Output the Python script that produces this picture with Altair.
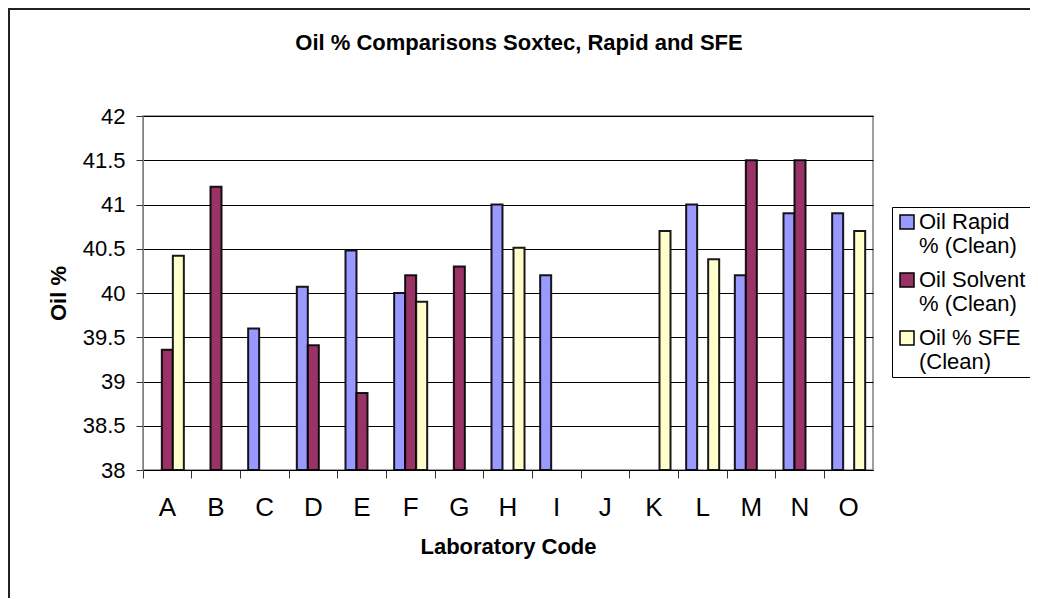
import altair as alt
import pandas as pd

labs = ["A", "B", "C", "D", "E", "F", "G", "H", "I", "J", "K", "L", "M", "N", "O"]
series = ["Oil Rapid\n% (Clean)", "Oil Solvent\n% (Clean)", "Oil % SFE\n(Clean)"]
rapid = [None, None, 39.6, 40.07, 40.48, 40.0, None, 41.0, 40.2, None, None, 41.0, 40.2, 40.9, 40.9]
solvent = [39.36, 41.2, None, 39.41, 38.87, 40.2, 40.3, None, None, None, None, None, 41.5, 41.5, None]
sfe = [40.42, None, None, None, None, 39.9, None, 40.51, None, None, 40.7, 40.38, None, None, 40.7]
colors = ["#9999FF", "#993366", "#FFFFCC"]
y_ticks = [38, 38.5, 39, 39.5, 40, 40.5, 41, 41.5, 42]
title_text = ["Oil % Comparisons Soxtec, Rapid and SFE"]

rows = []
for s, vals in zip(series, [rapid, solvent, sfe]):
    for c, v in zip(labs, vals):
        if v is not None:
            rows.append({"lab": c, "series": s, "value": v})
df = pd.DataFrame(rows)

FONT = "Liberation Sans"

bars = alt.Chart(df).mark_bar(stroke="black", strokeWidth=2, strokeOpacity=0.9).encode(
    x=alt.X("lab:N", scale=alt.Scale(domain=labs, paddingInner=0, paddingOuter=0),
            axis=alt.Axis(title="Laboratory Code", labelAngle=0, bandPosition=0, labelOffset=0,
                          tickSize=8, labelPadding=16, labelFontSize=26, titleFontSize=22,
                          titleFontWeight="bold", titlePadding=16, domainColor="black",
                          tickColor="#333", labelColor="black", titleColor="black", grid=False)),
    xOffset=alt.XOffset("series:N", scale=alt.Scale(domain=series, paddingInner=0, paddingOuter=0.71)),
    y=alt.Y("value:Q", scale=alt.Scale(domain=[38, 42], zero=False, nice=False),
            axis=alt.Axis(title="Oil %", values=y_ticks, format=".1~f", tickSize=7, labelPadding=11,
                          labelFontSize=22, titleFontSize=22, titleFontWeight="bold", titlePadding=12,
                          domainColor="#808080", tickColor="#333", gridColor="black", gridWidth=1,
                          labelColor="black", titleColor="black")),
    y2=alt.datum(38),
    color=alt.Color("series:N", scale=alt.Scale(domain=series, range=colors),
                    legend=alt.Legend(title=None, orient="none", legendX=749, legendY=91,
                                      symbolType="square", symbolSize=196, symbolStrokeColor="black",
                                      symbolStrokeWidth=1.5, labelFontSize=22, labelColor="black",
                                      labelExpr="split(replace(datum.label, 'Solvent', 'Solvent      '), '\\n')",
                                      labelLimit=300, rowPadding=12, strokeColor="black", padding=4,
                                      labelOffset=1)),
)

title = alt.Chart(pd.DataFrame({"t": title_text})).mark_text(
    fontSize=22, fontWeight="bold", font=FONT, color="black", align="center", baseline="alphabetic"
).encode(text="t:N", x=alt.value(376), y=alt.value(-66))

frame = alt.Chart(pd.DataFrame({"a": [0]})).mark_rect(fill=None, stroke="#222", strokeWidth=2).encode(
    x=alt.value(-134), x2=alt.value(1000), y=alt.value(-107), y2=alt.value(700)
)

chart = alt.layer(bars, title, frame).properties(
    width=730, height=354,
    autosize=alt.AutoSizeParams(type="none"),
    padding={"left": 135, "top": 108, "right": 157, "bottom": 128},
).configure(font=FONT).configure_view(stroke="#808080", strokeWidth=1.5).configure_legend(
    labelFont=FONT
)

chart.save("out.html", embed_options={"renderer": "svg", "actions": False})
